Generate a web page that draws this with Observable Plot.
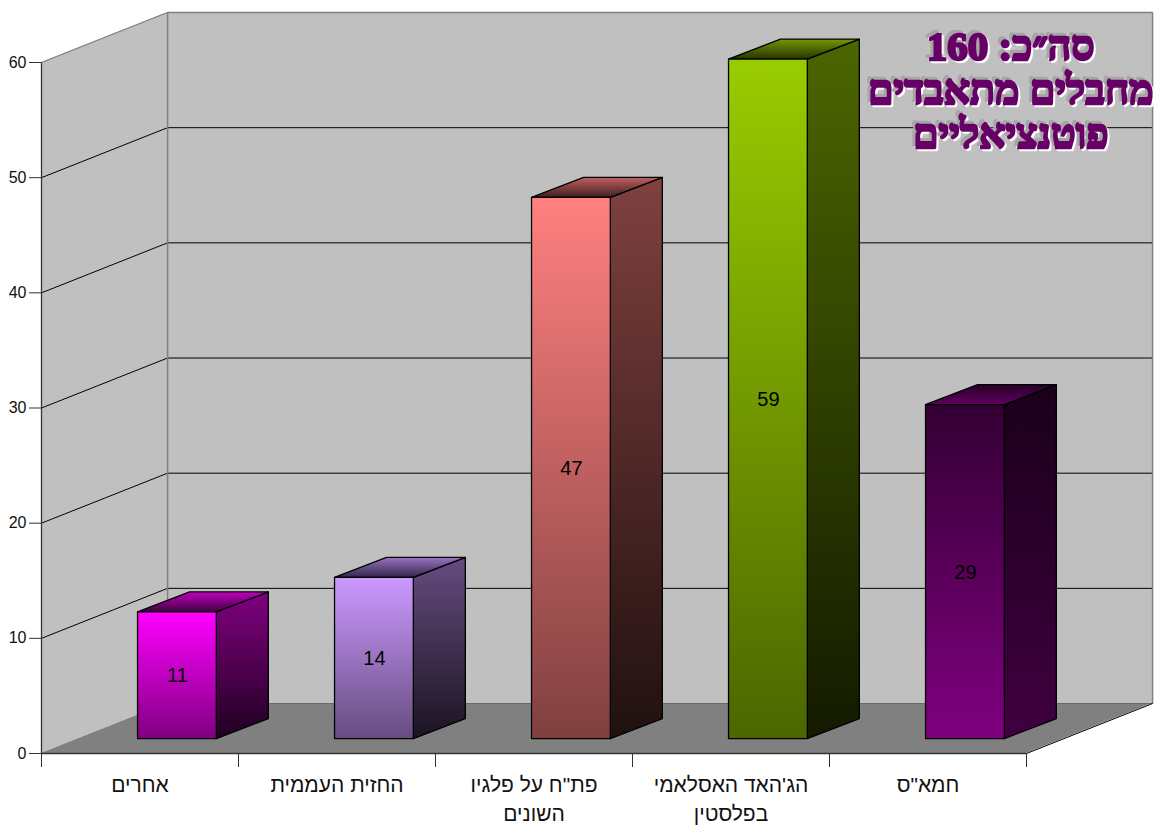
<!DOCTYPE html>
<html><head><meta charset="utf-8">
<script src="https://cdn.jsdelivr.net/npm/d3@7"></script>
<script src="https://cdn.jsdelivr.net/npm/@observablehq/plot@0.6"></script>
<style>html,body{margin:0;padding:0;background:#fff}svg{display:block;overflow:visible}</style>
</head><body><div id="c"></div>
<script>
const categories = ["אחרים", "החזית העממית", "פת\"ח על פלגיו\nהשונים", "הג'האד האסלאמי\nבפלסטין", "חמא\"ס"];
const values = [11, 14, 47, 59, 29];
const yTicks = [0, 10, 20, 30, 40, 50, 60];
const xTicks = [0, 1, 2, 3, 4, 5];
const titleLines = ["סה״כ: 160", "מחבלים מתאבדים", "פוטנציאליים"];
const frontStops = [["#FF00FF","#800080"],["#CC99FF","#664C80"],["#FF8080","#804040"],["#99CC00","#4C6600"],["#330033","#800080"]];
const sideStops  = [["#800080","#200020"],["#664C80","#1A1320"],["#804040","#201010"],["#4C6600","#131A00"],["#1A001A","#400040"]];
const topStops   = [["#C000C0","#400040"],["#9973C0","#33264D"],["#C06060","#402020"],["#739900","#263300"],["#260026","#600060"]];

// projection of the oblique view, in data units
const wallDX = 0.64, wallDY = 4.34;
const barDX = 0.264, barDY = 1.736;
const barBase = 1.25, barStart = 0.49, barWidth = 0.4;
const yMax = 60, nCat = categories.length;

// polygon of 4 points: area between two segments
const poly = (p, q, opts) => Plot.area([0, 1], {x1: i => p[i][0], y1: i => p[i][1], x2: i => q[i][0], y2: i => q[i][1], curve: "linear", ...opts});

const defs = () => {
  const svg = d3.create("svg:defs");
  const add = (id, c) => {
    const g = svg.append("linearGradient").attr("id", id).attr("x1", 0).attr("y1", 0).attr("x2", 0).attr("y2", 1);
    g.append("stop").attr("offset", "0%").attr("stop-color", c[0]);
    g.append("stop").attr("offset", "100%").attr("stop-color", c[1]);
  };
  values.forEach((_, i) => { add("f" + i, frontStops[i]); add("s" + i, sideStops[i]); add("t" + i, topStops[i]); });
  return svg.node();
};

const barMarks = values.flatMap((v, i) => {
  const x0 = i + barStart, x1 = x0 + barWidth, x2 = x1 + barDX, xb = x0 + barDX;
  const y0 = barBase, y1 = barBase + v, yd = barDY;
  const edge = {stroke: "#000", strokeWidth: 1.3, strokeLinejoin: "round"};
  return [
    poly([[x1, y0], [x2, y0 + yd]], [[x1, y1], [x2, y1 + yd]], {fill: `url(#s${i})`, ...edge}),
    poly([[x0, y1], [x1, y1]], [[xb, y1 + yd], [x2, y1 + yd]], {fill: `url(#t${i})`, ...edge}),
    poly([[x0, y0], [x1, y0]], [[x0, y1], [x1, y1]], {fill: `url(#f${i})`, ...edge})
  ];
});

const gridTicks = yTicks.filter(t => t > 0 && t < yMax);
const plot = Plot.plot({
  width: 1157, height: 827,
  marginLeft: 41, marginRight: 131, marginTop: 62, marginBottom: 74,
  x: {domain: [0, nCat], range: [41, 1026]},
  y: {domain: [0, yMax], range: [753, 62]},
  style: {fontFamily: "'Liberation Sans', Arial, sans-serif", background: "#fff", overflow: "visible"},
  marks: [
    defs,
    // walls and floor
    poly([[0, 0], [wallDX, wallDY]], [[0, yMax], [wallDX, yMax + wallDY]], {fill: "#C0C0C0"}),
    poly([[wallDX, wallDY], [nCat + wallDX, wallDY]], [[wallDX, yMax + wallDY], [nCat + wallDX, yMax + wallDY]], {fill: "#C0C0C0"}),
    poly([[0, 0], [nCat, 0]], [[wallDX, wallDY], [nCat + wallDX, wallDY]], {fill: "#808080"}),
    // grid
    Plot.link(gridTicks, {x1: 0, y1: d => d, x2: wallDX, y2: d => d + wallDY, stroke: "#000", strokeWidth: 1}),
    Plot.link(gridTicks, {x1: wallDX, y1: d => d + wallDY, x2: nCat + wallDX, y2: d => d + wallDY, stroke: "#000", strokeWidth: 1}),
    // wall outlines
    Plot.link([0], {x1: 0, y1: yMax, x2: wallDX, y2: yMax + wallDY, stroke: "#808080", strokeWidth: 1.2}),
    Plot.link([0], {x1: wallDX, y1: yMax + wallDY, x2: nCat + wallDX, y2: yMax + wallDY, stroke: "#808080", strokeWidth: 1.5}),
    Plot.link([0], {x1: wallDX, y1: wallDY, x2: wallDX, y2: yMax + wallDY, stroke: "#808080", strokeWidth: 1.5}),
    Plot.link([0], {x1: nCat + wallDX, y1: wallDY, x2: nCat + wallDX, y2: yMax + wallDY, stroke: "#808080", strokeWidth: 1.5}),
    Plot.link([0], {x1: wallDX, y1: wallDY, x2: nCat + wallDX, y2: wallDY, stroke: "#6a6a6a", strokeWidth: 1.2}),
    Plot.link([0], {x1: 0, y1: 0, x2: wallDX, y2: wallDY, stroke: "#808080", strokeWidth: 1.2, strokeDasharray: "1.5 1"}),
    Plot.link([0], {x1: nCat, y1: 0, x2: nCat + wallDX, y2: wallDY, stroke: "#000", strokeWidth: 1}),
    // bars
    ...barMarks,
    Plot.text(values, {x: (d, i) => i + barStart + barWidth / 2, y: d => barBase + d / 2, text: d => String(d), fontSize: 20, fill: "#000"}),
    // axes
    Plot.axisY({ticks: yTicks, tickSize: 12, tickPadding: 3, fontSize: 16, stroke: "#333", fill: "#111", label: null, tickFormat: d => String(d)}),
    Plot.axisX({ticks: xTicks, tickSize: 14, tickFormat: () => "", stroke: "#333", label: null}),
    Plot.link([0], {x1: 0, y1: 0, x2: 0, y2: yMax, stroke: "#333", strokeWidth: 1.3}),
    Plot.link([0], {x1: 0, y1: 0, x2: nCat, y2: 0, stroke: "#333", strokeWidth: 1.6}),
    Plot.text(categories, {x: (d, i) => i + 0.5, y: 0, text: d => d, dy: 18, lineAnchor: "top", fontSize: 21, lineHeight: 1.38, fill: "#111", textAnchor: "middle"}),
    // embossed title
    Plot.text(["\u202B" + titleLines.join("\n") + "\u202C"], {
      x: () => 4.92, y: () => 57.63, text: d => d, lineHeight: 1.07, lineAnchor: "middle",
      fontSize: 41, fontWeight: "bold",
      fontFamily: "'Liberation Serif', serif", fill: "#660066", stroke: "#660066", strokeWidth: 2.4,
      render(index, scales, values, dimensions, context, next) {
        const g = next(index, scales, values, dimensions, context);
        g.style.filter = "drop-shadow(-3px -3px 0 #A6A6A6) drop-shadow(2px 2px 0 #FFFFFF)";
        return g;
      }
    })
  ]
});
document.getElementById("c").append(plot);
</script></body></html>
